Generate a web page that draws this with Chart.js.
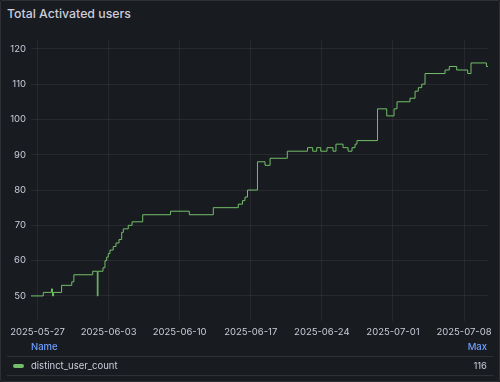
<!DOCTYPE html>
<html><head><meta charset="utf-8">
<script src="https://cdn.jsdelivr.net/npm/chart.js@4.4.1/dist/chart.umd.min.js"></script>
<style>
html,body{margin:0;padding:0;background:#111217;width:500px;height:382px;overflow:hidden}
#panel{position:absolute;left:0;top:0;width:498px;height:380px;background:#181b1f;border:1px solid rgba(204,204,220,0.12);border-radius:2px}
.t{position:absolute;font-family:Inter,"Noto Sans",sans-serif;color:#ccccdc;white-space:nowrap;line-height:14px}
#title{left:7px;top:7px;font-size:12.3px;font-weight:500}
#hname{left:31px;top:340px;font-size:9.5px;font-weight:500;color:#6e9fff}
#hmax{right:13px;top:340px;font-size:9.5px;font-weight:500;color:#6e9fff}
.sep{position:absolute;left:7px;width:486px;height:1px;background:rgba(204,204,220,0.12)}
#sw{position:absolute;left:13px;top:364px;width:11px;height:4px;border-radius:2px;background:#73bf69}
#lname{left:31px;top:359px;font-size:9.5px}
#lmax{right:13px;top:359px;font-size:9.5px}
#wrap{position:absolute;left:0;top:0;width:500px;height:382px}
</style></head>
<body>
<div id="panel"></div>
<div class="t" id="title">Total Activated users</div>
<div id="wrap"><canvas id="c" width="500" height="382"></canvas></div>
<div class="t" id="hname">Name</div>
<div class="t" id="hmax">Max</div>
<div class="sep" style="top:356px"></div>
<div id="sw"></div>
<div class="t" id="lname">distinct_user_count</div>
<div class="t" id="lmax"></div>
<div class="sep" style="top:375px"></div>
<script>
const seriesName = 'distinct_user_count';
const times = [
 '2025-05-26T08:40','2025-05-27T13:40','2025-05-28T09:00','2025-05-28T11:30','2025-05-28T14:00',
 '2025-05-29T09:00','2025-05-30T09:00','2025-05-30T14:00','2025-06-01T10:30','2025-06-01T21:20',
 '2025-06-01T23:00','2025-06-02T10:50','2025-06-02T15:30','2025-06-02T19:30','2025-06-02T23:20',
 '2025-06-03T03:20','2025-06-03T11:00','2025-06-03T17:30','2025-06-04T00:40','2025-06-04T07:00',
 '2025-06-04T10:50','2025-06-04T22:30','2025-06-05T07:30','2025-06-06T08:40','2025-06-09T02:20',
 '2025-06-10T22:50','2025-06-13T07:30','2025-06-15T18:30','2025-06-16T04:30','2025-06-16T10:20',
 '2025-06-16T16:20','2025-06-17T15:50','2025-06-18T09:40','2025-06-18T21:40','2025-06-20T14:20',
 '2025-06-22T14:10','2025-06-23T02:20','2025-06-23T11:50','2025-06-23T21:20','2025-06-24T12:10',
 '2025-06-25T02:20','2025-06-25T09:20','2025-06-26T02:00','2025-06-26T14:00','2025-06-26T23:20',
 '2025-06-27T06:30','2025-06-27T11:00','2025-06-29T11:30','2025-06-30T09:20','2025-07-01T02:40',
 '2025-07-01T09:40','2025-07-02T16:20','2025-07-03T04:20','2025-07-03T12:00','2025-07-03T20:00',
 '2025-07-04T03:50','2025-07-06T03:10','2025-07-06T13:10','2025-07-07T06:40','2025-07-08T08:40',
 '2025-07-08T16:30','2025-07-10T05:00','2025-07-10T08:40'
];
const userCounts = [
 50,51,52,50,51,
 53,54,56,57,50,
 57,58,60,61,62,
 63,64,65,66,68,
 69,70,71,73,74,
 73,75,76,77,78,
 80,88,87,89,91,
 92,91,92,91,92,
 91,93,92,91,92,
 93,94,103,101,103,
 105,106,108,109,110,
 113,114,115,114,113,
 116,115,115
];
const xTickLabels = ['2025-05-27','2025-06-03','2025-06-10','2025-06-17','2025-06-24','2025-07-01','2025-07-08'];
const yTickValues = [50,60,70,80,90,100,110,120];

const toMs = s => Date.parse(s + ':00Z');
const points = times.map((t,i)=>({x:toMs(t), y:userCounts[i]}));
const xTicks = xTickLabels.map(s=>Date.parse(s+'T00:00:00Z'));
const fmt = v => new Date(v).toISOString().slice(0,10);
document.getElementById('lmax').textContent = Math.max(...userCounts);

const font = {family:'Inter', size:9.5};
const gridColor = 'rgba(204,204,220,0.08)';
new Chart(document.getElementById('c'), {
  type:'line',
  data:{datasets:[{label:seriesName, data:points, borderColor:'#73bf69', borderWidth:1, pointRadius:0, stepped:true, fill:false, tension:0}]},
  options:{
    responsive:false, animation:false, devicePixelRatio:1,
    layout:{padding:{left:0,right:12,top:40,bottom:41}},
    plugins:{legend:{display:false}, tooltip:{enabled:false}},
    scales:{
      x:{type:'linear', min:points[0].x, max:points[points.length-1].x,
        grid:{color:gridColor, drawTicks:false}, border:{display:false},
        ticks:{color:'#ccccdc', font, padding:5, maxRotation:0, autoSkip:false, callback:v=>fmt(v)},
        afterBuildTicks:s=>{s.ticks = xTicks.map(v=>({value:v}));},
        afterFit:s=>{s.height=20;}
      },
      y:{type:'linear', min:42.9, max:122.5,
        grid:{color:gridColor, drawTicks:false}, border:{display:false},
        ticks:{color:'#ccccdc', font, padding:5},
        afterBuildTicks:s=>{s.ticks = yTickValues.map(v=>({value:v}));},
        afterFit:s=>{s.width=31;}
      }
    }
  }
});
</script>
</body></html>
